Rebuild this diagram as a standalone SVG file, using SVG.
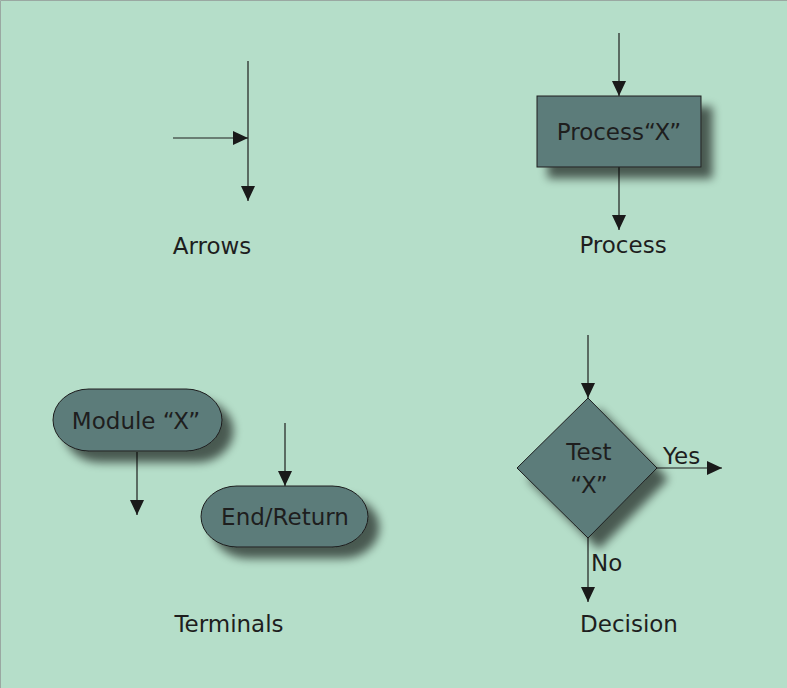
<svg xmlns="http://www.w3.org/2000/svg" width="787" height="688" viewBox="0 0 787 688">
<style>
.bg{fill:#b5dec9}
.shape{fill:#5b7b7a;stroke:#1e1e1e;stroke-width:1}
.line{stroke:#1e1e1e;stroke-width:1.2;fill:none}
.t{font-family:"DejaVu Sans","Liberation Sans",sans-serif;font-size:23px;fill:#1e1e1e}
.lbl{font-family:"DejaVu Sans","Liberation Sans",sans-serif;font-size:23px;fill:#1e1e1e}
</style>
<defs>
<marker id="ah" viewBox="0 0 15 14" refX="15" refY="7" markerWidth="15" markerHeight="14" markerUnits="userSpaceOnUse" orient="auto">
<path d="M0,0 L15,7 L0,14 Z" fill="#1a1a1a"/>
</marker>
<filter id="sh" x="-30%" y="-30%" width="170%" height="170%">
<feGaussianBlur in="SourceAlpha" stdDeviation="5"/>
<feOffset dx="11" dy="11"/>
<feComponentTransfer><feFuncA type="linear" slope="0.6"/></feComponentTransfer>
<feMerge><feMergeNode/><feMergeNode in="SourceGraphic"/></feMerge>
</filter>
</defs>
<rect class="bg" x="0" y="0" width="787" height="688"/>
<path d="M0.5,688 V0.5 H787" stroke="#9aa8a2" stroke-width="1" fill="none"/>

<g id="connectors">
<line class="line" x1="248" y1="61" x2="248" y2="201" marker-end="url(#ah)"/>
<line class="line" x1="173" y1="138" x2="248" y2="138" marker-end="url(#ah)"/>
<line class="line" x1="619" y1="33" x2="619" y2="96" marker-end="url(#ah)"/>
<line class="line" x1="619" y1="167" x2="619" y2="230" marker-end="url(#ah)"/>
<line class="line" x1="137" y1="452" x2="137" y2="515" marker-end="url(#ah)"/>
<line class="line" x1="285" y1="423" x2="285" y2="486" marker-end="url(#ah)"/>
<line class="line" x1="588" y1="335" x2="588" y2="398" marker-end="url(#ah)"/>
<line class="line" x1="657" y1="468" x2="722" y2="468" marker-end="url(#ah)"/>
<line class="line" x1="588" y1="538" x2="588" y2="602" marker-end="url(#ah)"/>
</g>

<g id="process">
<rect class="shape" x="537" y="96" width="164" height="71" filter="url(#sh)"/>
<text class="t" x="619" y="140" text-anchor="middle">Process“X”</text>
</g>

<g id="module">
<rect class="shape" x="53" y="389" width="169" height="62" rx="36" ry="31" filter="url(#sh)"/>
<text class="t" x="136" y="429" text-anchor="middle">Module “X”</text>
</g>

<g id="endreturn">
<rect class="shape" x="201" y="486" width="167" height="61" rx="36" ry="30.5" filter="url(#sh)"/>
<text class="t" x="285" y="525" text-anchor="middle">End/Return</text>
</g>

<g id="decision">
<polygon class="shape" points="588,398 657,468 588,538 517,468" filter="url(#sh)"/>
<text class="t" x="589" y="460" text-anchor="middle">Test</text>
<text class="t" x="589" y="493" text-anchor="middle">“X”</text>
</g>

<g id="labels">
<text class="lbl" x="212" y="254" text-anchor="middle">Arrows</text>
<text class="lbl" x="623" y="253" text-anchor="middle">Process</text>
<text class="lbl" x="229" y="632" text-anchor="middle">Terminals</text>
<text class="lbl" x="629" y="632" text-anchor="middle">Decision</text>
<text class="t" x="663" y="464">Yes</text>
<text class="t" x="591" y="571">No</text>
</g>
</svg>
